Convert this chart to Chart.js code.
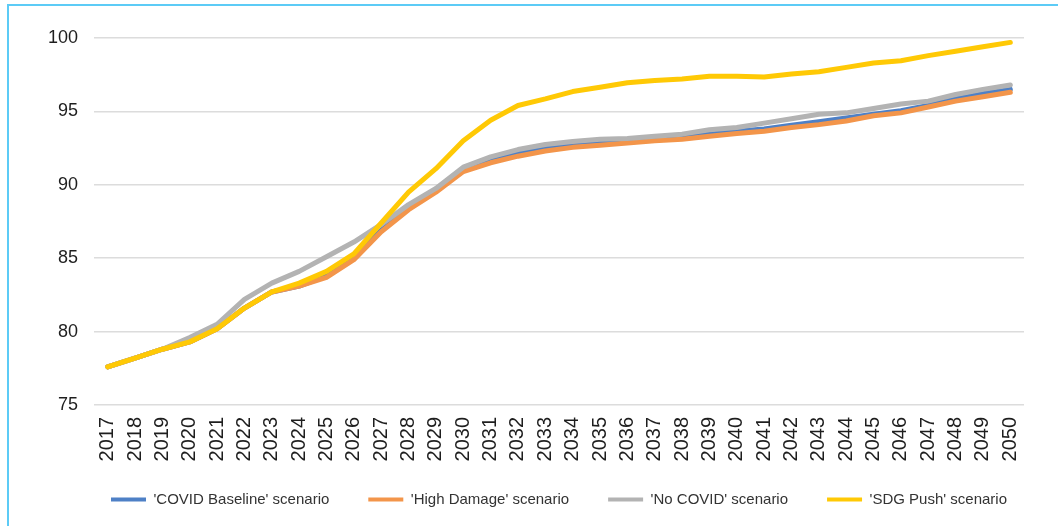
<!DOCTYPE html>
<html>
<head>
<meta charset="utf-8">
<script src="https://cdn.jsdelivr.net/npm/chart.js@4/dist/chart.umd.min.js"></script>
<style>
  html, body { margin: 0; padding: 0; background: #ffffff; }
  #frame {
    position: absolute; left: 7px; top: 4px; right: 0; bottom: 0;
    border-left: 2px solid #5ccbf6; border-top: 2px solid #5ccbf6;
  }
  #wrap { position: relative; width: 1058px; height: 526px; }
</style>
</head>
<body>
<div id="frame"></div>
<div id="wrap"><canvas id="scenarioChart"></canvas></div>
<script>
const years = [
  '2017', '2018', '2019', '2020', '2021', '2022', '2023', '2024', '2025', '2026',
  '2027', '2028', '2029', '2030', '2031', '2032', '2033', '2034', '2035', '2036',
  '2037', '2038', '2039', '2040', '2041', '2042', '2043', '2044', '2045', '2046',
  '2047', '2048', '2049', '2050'
];

const covidBaseline = [
  77.6, 78.2, 78.8, 79.3, 80.2, 81.6, 82.7, 83.1, 83.8, 85.0,
  86.9, 88.45, 89.6, 90.95, 91.7, 92.2, 92.55, 92.75, 92.9, 93.0,
  93.15, 93.25, 93.45, 93.65, 93.8, 94.05, 94.3, 94.55, 94.8, 95.05,
  95.4, 95.85, 96.2, 96.5
];

const highDamage = [
  77.6, 78.2, 78.8, 79.3, 80.2, 81.6, 82.7, 83.1, 83.7, 84.9,
  86.8, 88.3, 89.5, 90.9, 91.5, 91.95, 92.3, 92.55, 92.7, 92.85,
  93.0, 93.1, 93.3, 93.5, 93.65, 93.9, 94.1, 94.35, 94.7, 94.9,
  95.3, 95.7, 96.0, 96.3
];

const noCovid = [
  77.6, 78.2, 78.8, 79.6, 80.5, 82.2, 83.3, 84.1, 85.1, 86.1,
  87.3, 88.65, 89.75, 91.2, 91.9, 92.4, 92.75, 92.95, 93.1, 93.15,
  93.3, 93.45, 93.75, 93.9, 94.2, 94.5, 94.8, 94.9, 95.2, 95.5,
  95.7, 96.15, 96.5, 96.8
];

const sdgPush = [
  77.6, 78.2, 78.8, 79.3, 80.2, 81.6, 82.7, 83.3, 84.1, 85.3,
  87.4, 89.5, 91.1, 93.0, 94.4, 95.4, 95.85, 96.35, 96.65, 96.95,
  97.1, 97.2, 97.4, 97.4, 97.35, 97.55, 97.7, 98.0, 98.3, 98.45,
  98.8, 99.1, 99.4, 99.7
];

const seriesNames = [
  "'COVID Baseline' scenario",
  "'High Damage' scenario",
  "'No COVID' scenario",
  "'SDG Push' scenario"
];

const yTicks = [75, 80, 85, 90, 95, 100];

const fontFamily = '"Liberation Sans", Arial, Helvetica, sans-serif';

function lineSeries(label, data, color, order) {
  return {
    label: label,
    data: data,
    borderColor: color,
    backgroundColor: color,
    borderWidth: 5,
    borderCapStyle: 'round',
    borderJoinStyle: 'round',
    tension: 0,
    pointRadius: 0,
    pointHoverRadius: 0,
    fill: false,
    order: order
  };
}

// centre the legend under the plot area (not the whole canvas)
// and lift it a little towards the year labels
const legendUnderPlot = {
  id: 'legendUnderPlot',
  afterLayout(chart) {
    const legend = chart.legend;
    const area = chart.chartArea;
    const dx = (area.left + area.right) / 2 - (legend.left + legend.right) / 2;
    const dy = -9;
    legend.left += dx;
    legend.right += dx;
    legend.top += dy;
    legend.bottom += dy;
  }
};

const ctx = document.getElementById('scenarioChart').getContext('2d');
new Chart(ctx, {
  type: 'line',
  data: {
    labels: years,
    datasets: [
      lineSeries(seriesNames[0], covidBaseline, '#4e80c6', 3),
      lineSeries(seriesNames[1], highDamage, '#f3954a', 2),
      lineSeries(seriesNames[2], noCovid, '#b3b3b3', 1),
      lineSeries(seriesNames[3], sdgPush, '#ffc905', 0)
    ]
  },
  options: {
    responsive: true,
    maintainAspectRatio: false,
    animation: false,
    layout: {
      padding: { top: 38, right: 34, bottom: 0, left: 0 }
    },
    plugins: {
      tooltip: { enabled: false },
      legend: {
        position: 'bottom',
        labels: {
          boxWidth: 35,
          boxHeight: 4,
          padding: 39,
          color: '#333333',
          font: { family: fontFamily, size: 15 },
          generateLabels(chart) {
            return Chart.defaults.plugins.legend.labels.generateLabels(chart)
              .map(item => Object.assign(item, { lineWidth: 0, fillStyle: item.strokeStyle }));
          },
          sort: (a, b) => a.datasetIndex - b.datasetIndex
        }
      }
    },
    scales: {
      x: {
        offset: true,
        grid: { display: false, drawTicks: false },
        border: { display: false },
        ticks: {
          autoSkip: false,
          minRotation: 90,
          maxRotation: 90,
          padding: 12,
          color: '#1e1e1e',
          font: { family: fontFamily, size: 20 }
        },
        afterFit(scale) { scale.height = 57; }
      },
      y: {
        min: yTicks[0],
        max: yTicks[yTicks.length - 1],
        grid: { color: '#dcdcdc', lineWidth: 1.5, drawTicks: false },
        border: { display: false },
        afterBuildTicks(scale) { scale.ticks = yTicks.map(v => ({ value: v })); },
        ticks: {
          padding: 16,
          color: '#1e1e1e',
          font: { family: fontFamily, size: 18 }
        },
        afterFit(scale) { scale.width = 94; }
      }
    }
  },
  plugins: [legendUnderPlot]
});
</script>
</body>
</html>
